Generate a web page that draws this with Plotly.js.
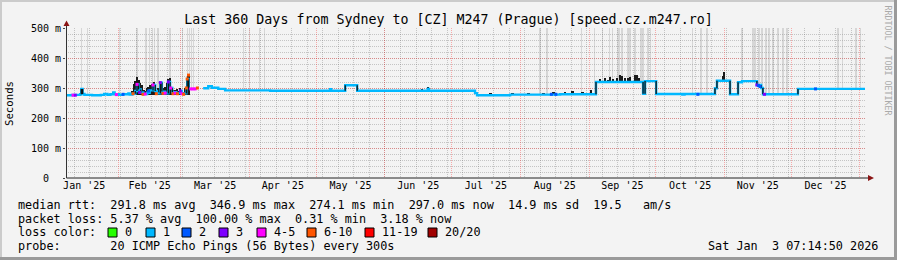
<!DOCTYPE html>
<html><head><meta charset="utf-8">
<script src="https://cdn.plot.ly/plotly-3.0.1.min.js"></script>
<style>html,body{margin:0;padding:0;background:#f3f3f3}#chart{width:897px;height:260px}</style>
</head><body><div id="chart"></div>
<script>
// ---- data (x in days since 2025-01-01 00:00, y in ms) ----
const rangeDays = [7.3, 367.3];
const monthStarts = [31, 59, 90, 120, 151, 181, 212, 243, 273, 304, 334, 365];
const monthMids = [15.5, 45, 74.5, 105, 135.5, 166, 196.5, 227.5, 258, 288.5, 319, 349.5];
const monthLabels = ["Jan '25", "Feb '25", "Mar '25", "Apr '25", "May '25", "Jun '25", "Jul '25", "Aug '25", "Sep '25", "Oct '25", "Nov '25", "Dec '25"];
const yTickVals = [0, 100, 200, 300, 400, 500];
const yTickText = ["0\u00a0\u00a0", "100 m", "200 m", "300 m", "400 m", "500 m"];

const medianDays = [7.3,10,13.7,14.2,14.8,15.6,19,23,24.5,26,27.3,28.6,29.2,31.3,33,35.4,36,37.2,38.5,39.3,40,41,42.1,43.9,45,46.5,47.5,48.3,49.8,50.5,52,53.4,54.2,55.2,57,58.8,59.5,61.5,61.9,62.5,66.9,69.1,71.4,73,75.9,79,99.3,126.3,126.8,133.1,138.5,170.3,170.8,191.6,192.5,207.4,229.9,246.1,267.3,268.2,273.2,285,286,299.7,300.6,306.5,310.1,311.9,318.6,320.5,321.3,337.1,367.3];
const medianMs = [276,277,279,297,280,277,276,277,280,277,279,285,279,277,279,282,278,281,290,312,295,285,280,284,292,310,290,282,318,288,282,320,300,286,283,290,282,300,330,297,null,299,306,301,297,292,291,296,291,309,291,297,291,283,276,278,279,320,281,323,280,278,280,299,324,279,319,323,310,300,279,297,297];

const smokeDays = [14.2,28.6,37.0,37.8,38.5,39.3,40.0,40.8,41.5,42.3,43.0,43.8,44.5,45.3,46.0,46.8,47.5,48.3,49.0,49.8,50.5,51.3,52.0,52.8,53.5,54.3,55.0,55.8,56.5,57.3,58.0,58.8,59.5,60.3,61.0,61.8,62.5,167.8,170.5,198.6,208.5,215.7,222.4,226.9,232,235.5,240,244,247.9,250.2,251.5,252.4,253.8,255.6,256.9,257.8,259.2,260.5,261.4,263.7,264.6,265.5,303.3,303.8];
const smokeLoMs = [277,277,276,276,276,276,276,276,276,276,276,276,276,276,276,276,276,276,276,276,276,276,276,276,276,276,276,276,276,276,276,276,276,276,276,276,276,290,288,276,277,277,277,277,277,277,277,278,318,318,318,318,318,318,318,318,318,318,318,318,318,318,320,320];
const smokeHiMs = [297,287,290,315,325,337,328,318,310,295,290,300,305,310,315,320,305,295,300,297,292,300,305,318,330,332,305,295,292,297,290,300,293,288,300,335,343,297,304,284,285,284,285,286,288,290,288,292,330,334,328,337,330,333,343,340,335,332,336,343,345,335,340,352];

const spikeDays = [14.2,16.9,31.5,39.2,39.6,43.0,43.7,44.8,46.2,47.1,48.4,48.9,53.8,54.5,59.7,61.9,62.8,63.7,64.6,87.4,89.9,94.4,96.6,220.9,224.0,239.7,245.4,249.1,252.3,253.6,255.8,256.5,257.8,260.5,261.4,263.6,266.3,267.2,269.5,270.8,289.6,293.4,296.1,311.9,316.8,317.7,319.5,320.9,322.7,324.0,325.8,328.1,330.3,332.1,355.1,357.3,363.2,365.2];

const lossDays = [10.5,11.5,30,33,37.5,39.3,40.5,42,43,44.5,46.5,48,49.8,51,52,53.4,54.5,55.5,56.5,57.5,58.8,59.5,60.3,61.5,61.9,62.5,63.5,64.5,65.5,66.5,226,228,292,318.6,319.3,320,322,345];
const lossMs = [276,276,278,279,281,312,285,279,280,290,310,281,318,282,283,320,300,281,283,281,290,281,279,300,330,343,297,297,297,300,279,279,279,310,308,305,279,297];
const lossCount = [4,3,4,2,7,4,3,7,4,2,4,7,3,7,4,3,4,7,4,7,3,4,7,7,7,7,4,4,4,7,2,2,2,3,2,2,3,2];

const lossLegendLabels = ['0', '1', '2', '3', '4-5', '6-10', '11-19', '20/20'];
const lossLegendColors = ['#26ff00', '#00b8ff', '#0059ff', '#7e00ff', '#ff00ff', '#ff5500', '#ff0000', '#a10000'];
const statsLines = [
  "median rtt:  291.8 ms avg  346.9 ms max  274.1 ms min  297.0 ms now  14.9 ms sd  19.5   am/s",
  "packet loss: 5.37 % avg  100.00 % max  0.31 % min  3.18 % now",
  "loss color:",
  "probe:       20 ICMP Echo Pings (56 Bytes) every 300s"
];
const titleText = "Last 360 Days from Sydney to [CZ] M247 (Prague) [speed.cz.m247.ro]";
const dateText = "Sat Jan  3 07:14:50 2026";

// ---- geometry helpers ----
const W = 897, H = 260, L = 66, R = 32, T = 28, B = 82;
const PW = W - L - R, PH = H - T - B;
const px = x => (x - L) / PW;
const py = y => (H - B - y) / PH;
const nb = s => s.replace(/ /g, '\u00a0');
const MONO = 'DejaVu Sans Mono';

function medianAt(t) {
  let v = null;
  for (let i = 0; i < medianDays.length; i++) { if (medianDays[i] <= t) v = medianMs[i]; }
  return v == null ? 297 : v;
}
function lossIdx(c) { return c <= 3 ? c : c <= 5 ? 4 : c <= 10 ? 5 : c <= 19 ? 6 : 7; }

// derived: vertical transitions
const vx = [], vy = [];
for (let i = 1; i < medianDays.length; i++) {
  const a = medianMs[i - 1], b = medianMs[i];
  if (a != null && b != null && Math.abs(a - b) > 8) { vx.push(medianDays[i], medianDays[i], null); vy.push(a, b, null); }
}

const traces = [
  { type: 'bar', x: spikeDays, base: spikeDays.map(medianAt), y: spikeDays.map(t => 540 - medianAt(t)),
    width: 0.6, marker: { color: 'rgba(150,150,150,0.3)', line: { width: 0 } }, hoverinfo: 'skip' },
  { type: 'bar', x: smokeDays, base: smokeLoMs, y: smokeHiMs.map((h, i) => h - smokeLoMs[i]),
    width: 1.0, marker: { color: '#1a1a1a', line: { width: 0 } }, hoverinfo: 'skip' },
  { type: 'scatter', mode: 'lines', x: medianDays, y: medianMs, line: { color: '#00b8ff', width: 2.4, shape: 'hv' }, connectgaps: false },
  { type: 'scatter', mode: 'lines', x: vx, y: vy, line: { color: '#111', width: 1.3 }, connectgaps: false },
  { type: 'scatter', mode: 'markers', x: lossDays, y: lossMs,
    marker: { symbol: 'square', size: 3, color: lossCount.map(c => lossLegendColors[lossIdx(c)]), line: { width: 0 } } },
  { type: 'scatter', x: [], y: [], xaxis: 'x2', yaxis: 'y' }
];

const shapes = [];
// frame
shapes.push({ type: 'rect', xref: 'paper', yref: 'paper', x0: px(0), x1: px(W), y0: py(0), y1: py(2), fillcolor: '#cbcbcb', line: { width: 0 } });
shapes.push({ type: 'rect', xref: 'paper', yref: 'paper', x0: px(0), x1: px(2), y0: py(0), y1: py(H), fillcolor: '#cbcbcb', line: { width: 0 } });
shapes.push({ type: 'rect', xref: 'paper', yref: 'paper', x0: px(W - 3), x1: px(W), y0: py(0), y1: py(H), fillcolor: '#9a9a9a', line: { width: 0 } });
shapes.push({ type: 'rect', xref: 'paper', yref: 'paper', x0: px(0), x1: px(W), y0: py(H - 3), y1: py(H), fillcolor: '#9a9a9a', line: { width: 0 } });
// axes
shapes.push({ type: 'line', xref: 'paper', yref: 'paper', x0: px(66.5), x1: px(869), y0: py(178), y1: py(178), line: { color: '#222', width: 1 } });
shapes.push({ type: 'line', xref: 'paper', yref: 'paper', x0: px(66.5), x1: px(66.5), y0: py(178), y1: py(24), line: { color: '#333', width: 1 } });
shapes.push({ type: 'path', xref: 'paper', yref: 'paper',
  path: `M ${px(63.5)} ${py(26)} L ${px(69.5)} ${py(26)} L ${px(66.5)} ${py(20.5)} Z`, fillcolor: '#8b1515', line: { width: 0 } });
shapes.push({ type: 'path', xref: 'paper', yref: 'paper',
  path: `M ${px(868)} ${py(175)} L ${px(868)} ${py(181)} L ${px(874)} ${py(178)} Z`, fillcolor: '#8b1515', line: { width: 0 } });

const annotations = [];
const lineY = [204.5, 218.5, 232, 246.5];
statsLines.forEach((s, i) => annotations.push({ xref: 'paper', yref: 'paper', x: px(16), y: py(lineY[i]), xanchor: 'left', yanchor: 'middle',
  text: nb(s), showarrow: false, font: { family: MONO, size: 11.8, color: '#000' } }));
const boxX = [108, 146, 182, 219, 257, 307, 365, 428];
lossLegendLabels.forEach((lab, i) => {
  shapes.push({ type: 'rect', xref: 'paper', yref: 'paper', x0: px(boxX[i]), x1: px(boxX[i] + 9), y0: py(237), y1: py(228),
    fillcolor: lossLegendColors[i], line: { color: '#000', width: 1 } });
  annotations.push({ xref: 'paper', yref: 'paper', x: px(boxX[i] + 14.5), y: py(232), xanchor: 'left', yanchor: 'middle',
    text: lab, showarrow: false, font: { family: MONO, size: 11.8, color: '#000' } });
});
annotations.push({ xref: 'paper', yref: 'paper', x: px(880), y: py(246.5), xanchor: 'right', yanchor: 'middle',
  text: nb(dateText), showarrow: false, font: { family: MONO, size: 11.8, color: '#000' } });
annotations.push({ xref: 'paper', yref: 'paper', x: px(887.5), y: py(60), xanchor: 'center', yanchor: 'middle', textangle: 90,
  text: nb('RRDTOOL / TOBI OETIKER'), showarrow: false, font: { family: MONO, size: 8.3, color: '#aaaaaa' } });
annotations.push({ xref: 'paper', yref: 'paper', x: px(10), y: py(104), xanchor: 'center', yanchor: 'middle', textangle: -90,
  text: 'Seconds', showarrow: false, font: { family: MONO, size: 10.7, color: '#000' } });

const redGrid = 'rgba(255,0,0,0.3)', grayGrid = 'rgba(90,90,90,0.3)';
const layout = {
  width: W, height: H, margin: { l: L, r: R, t: T, b: B, pad: 0 },
  paper_bgcolor: '#f3f3f3', plot_bgcolor: '#f3f3f3', showlegend: false, barmode: 'overlay', bargap: 0,
  title: { text: titleText, font: { family: MONO, size: 13.3, color: '#000' }, x: 0.5, xref: 'container', xanchor: 'center',
    y: 1 - 19.5 / H, yref: 'container', yanchor: 'middle' },
  xaxis: { type: 'linear', range: rangeDays, tickmode: 'array', tickvals: monthStarts, showticklabels: false, ticks: '',
    showgrid: true, gridcolor: redGrid, griddash: '1px,1px', gridwidth: 1, zeroline: false, showline: false,
    minor: { tickmode: 'linear', tick0: 4, dtick: 7, showgrid: true, gridcolor: grayGrid, griddash: '1px,1px', gridwidth: 1, ticks: '' } },
  xaxis2: { type: 'linear', overlaying: 'x', anchor: 'y', side: 'bottom', range: rangeDays, tickmode: 'array', tickvals: monthMids,
    ticktext: monthLabels, ticks: '', showgrid: false, zeroline: false, showline: false,
    tickfont: { family: MONO, size: 10, color: '#000' } },
  yaxis: { range: [0, 500], tickmode: 'array', tickvals: yTickVals, ticktext: yTickText, ticks: 'outside', ticklen: 2, tickcolor: '#444',
    showgrid: true, gridcolor: redGrid, griddash: '1px,1px', gridwidth: 1, zeroline: false, showline: false,
    tickfont: { family: MONO, size: 10, color: '#000' },
    minor: { tickmode: 'linear', tick0: 0, dtick: 20, showgrid: true, gridcolor: grayGrid, griddash: '1px,1px', gridwidth: 1, ticks: '' } },
  shapes: shapes, annotations: annotations
};
Plotly.newPlot('chart', traces, layout, { staticPlot: true, displayModeBar: false });
</script></body></html>
